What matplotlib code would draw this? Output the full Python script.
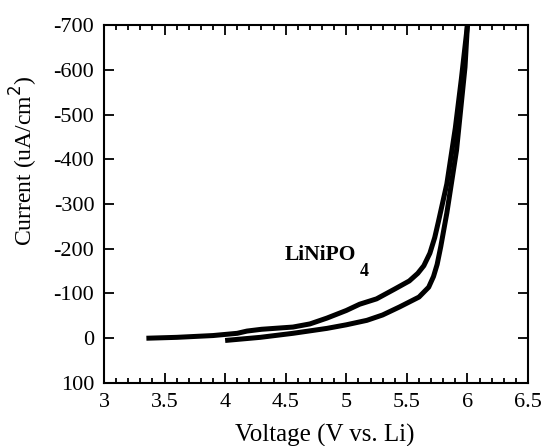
import numpy as np
import matplotlib
matplotlib.use("Agg")
import matplotlib.pyplot as plt
from matplotlib.ticker import MultipleLocator, FuncFormatter

plt.rcParams['font.family'] = 'Liberation Serif'

# forward sweep (upper branch)
v_up = [3.35, 3.6, 3.9, 4.1, 4.18, 4.3, 4.56, 4.7, 4.84, 5.0, 5.11, 5.25, 5.4, 5.52, 5.59,
        5.64, 5.69, 5.73, 5.76, 5.83, 5.9, 5.95, 6.0]
i_up = [0, -2, -6, -11, -16, -20, -25, -32, -45, -62, -76, -88, -110, -128, -145,
        -162, -190, -225, -260, -345, -470, -580, -700]
# return sweep (lower branch)
v_dn = [6.0, 5.98, 5.91, 5.83, 5.78, 5.75, 5.72, 5.68, 5.6, 5.44, 5.3, 5.17, 5.0, 4.84,
        4.56, 4.29, 4.0]
i_dn = [-700, -606, -420, -280, -205, -165, -138, -114, -92, -70, -52, -40, -30, -22,
        -11, -2, 5]

fig = plt.figure(figsize=(5.43, 4.46), dpi=100)
ax = fig.add_axes([0.1915, 0.1413, 0.7809, 0.8026])

ax.plot(v_up, i_up, color='black', lw=3.6, solid_capstyle='butt', solid_joinstyle='round')
ax.plot(v_dn, i_dn, color='black', lw=3.6, solid_capstyle='butt', solid_joinstyle='round')

ax.set_xlim(3, 6.5)
ax.set_ylim(100, -700)
ax.xaxis.set_major_locator(MultipleLocator(0.5))
ax.xaxis.set_minor_locator(MultipleLocator(0.1))
ax.yaxis.set_major_locator(MultipleLocator(100))
ax.xaxis.set_major_formatter(FuncFormatter(lambda v, p: f"{v:g}"))
ax.yaxis.set_major_formatter(FuncFormatter(lambda v, p: f"{int(v)}"))

ax.tick_params(which='both', direction='in', top=True, right=True, width=1.3,
               labelsize=16)
ax.tick_params(which='major', length=7, pad=7)
ax.tick_params(which='minor', length=3.5)
for s in ax.spines.values():
    s.set_linewidth(1.5)

ax.set_xlabel("Voltage (V vs. Li)", fontsize=18, labelpad=6)
ax.set_ylabel("Current (uA/cm$^2$)", fontsize=17)
ax.yaxis.set_label_coords(-0.151, 0.62)
ax.xaxis.set_label_coords(0.52, -0.115)

ax.text(4.49, -174, "LiNiPO", fontsize=15.5, fontweight='bold', va='baseline', ha='left')
ax.text(5.11, -139, "4", fontsize=13, fontweight='bold', va='baseline', ha='left')

fig.savefig("out.png", dpi=100)
